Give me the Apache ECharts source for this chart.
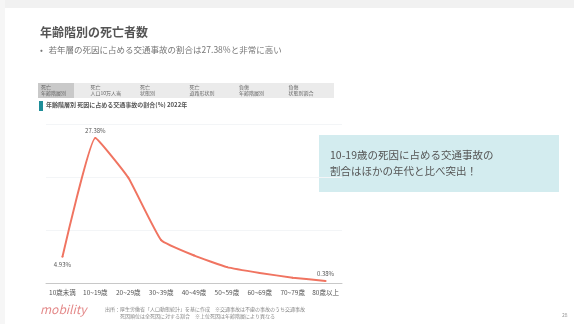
<!DOCTYPE html>
<html>
<head>
<meta charset="utf-8">
<script src="https://cdn.jsdelivr.net/npm/echarts@6/dist/echarts.min.js"></script>
<style>
  html, body { margin: 0; padding: 0; background: #fff; }
  #chart { width: 574px; height: 324px; }
</style>
</head>
<body>
<div id="chart"></div>
<script>
// age groups on the x axis
const ageGroups = ['10歳未満', '10~19歳', '20~29歳', '30~39歳', '40~49歳', '50~59歳', '60~69歳', '70~79歳', '80歳以上'];
// share of traffic accidents among causes of death (%)
const accidentShare = [4.93, 27.38, 19.9, 8.1, 5.2, 3.0, 1.9, 1.0, 0.38];
// which points get a value label
const labelledPoints = [0, 1, 8];

const tabTitles = [['死亡', '年齢階層別'], ['死亡', '人口10万人当'], ['死亡', '状態別'], ['死亡', '道路形状別'], ['負傷', '年齢階層別'], ['負傷', '状態別割合']];

const chart = echarts.init(document.getElementById('chart'));

const font = '"Noto Sans CJK JP", "Noto Sans", sans-serif';

// tab strip above the chart
const tabs = [];
tabTitles.forEach((t, i) => {
  const x = 39 + i * 49.5;
  tabs.push({
    type: 'text', left: x + 2, top: 84,
    style: { text: t[0] + '\n' + t[1], fontSize: 5, lineHeight: 6, fill: '#666', fontFamily: font }
  });
});

chart.setOption({
  animation: false,
  backgroundColor: '#ffffff',
  textStyle: { fontFamily: font },
  grid: { left: 46, right: 232, top: 124, bottom: 41 },
  xAxis: {
    type: 'category',
    data: ageGroups,
    boundaryGap: true,
    axisLine: { lineStyle: { color: '#c8c8c8', width: 1 } },
    axisTick: { show: false },
    axisLabel: { fontSize: 6.5, color: '#555', margin: 6, interval: 0 }
  },
  yAxis: {
    type: 'value',
    min: 0, max: 30,
    axisLine: { show: false },
    axisTick: { show: false },
    axisLabel: { show: false },
    splitLine: { lineStyle: { color: '#f3f5f7', width: 1 } },
    splitNumber: 3
  },
  series: [{
    type: 'line',
    data: accidentShare.map((v, i) => ({
      value: v,
      label: {
        show: labelledPoints.includes(i),
        position: i === 0 ? 'bottom' : 'top',
        distance: i === 0 ? 4 : 3
      }
    })),
    smooth: 0.12,
    symbol: 'circle',
    symbolSize: 2,
    showSymbol: true,
    itemStyle: { color: '#f07461' },
    lineStyle: { color: '#f07461', width: 2 },
    label: {
      fontSize: 6,
      color: '#555',
      formatter: p => p.value.toFixed(2) + '%'
    }
  }],
  graphic: [
    { type: 'rect', left: 0, top: 0, shape: { width: 574, height: 8 }, style: { fill: '#f1f1f1' } },
    { type: 'rect', left: 0, top: 0, shape: { width: 5, height: 324 }, style: { fill: '#f6f6f6' } },
    {
      type: 'text', left: 40, top: 26,
      style: { text: '年齢階別の死亡者数', fontSize: 12, fontWeight: 'bold', fill: '#555', fontFamily: font }
    },
    {
      type: 'text', left: 40, top: 46,
      style: { text: '•   若年層の死因に占める交通事故の割合は27.38%と非常に高い', fontSize: 8.5, fill: '#777', fontFamily: font }
    },
    { type: 'rect', left: 38, top: 83, shape: { width: 296, height: 15 }, style: { fill: '#ebebeb' } },
    { type: 'rect', left: 38, top: 83, shape: { width: 36, height: 15 }, style: { fill: '#c9c9c9' } },
    ...tabs,
    { type: 'rect', left: 39, top: 101, shape: { width: 4, height: 10 }, style: { fill: '#1e8e99' } },
    {
      type: 'text', left: 46, top: 102,
      style: { text: '年齢階層別 死因に占める交通事故の割合(%) 2022年', fontSize: 6, fontWeight: 'bold', fill: '#555', fontFamily: font }
    },
    { type: 'rect', left: 319, top: 135, shape: { width: 240, height: 57 }, style: { fill: '#d3ecef' } },
    {
      type: 'text', left: 330, top: 147,
      style: { text: '10-19歳の死因に占める交通事故の\n割合はほかの年代と比べ突出！', fontSize: 10.5, lineHeight: 16, fill: '#555', fontFamily: font }
    },
    {
      type: 'text', left: 40, top: 303,
      style: { text: 'mobility', fontSize: 12, fill: '#e48a8a', fontFamily: font, fontStyle: 'italic' }
    },
    {
      type: 'text', left: 105, top: 306,
      style: { text: '出所：厚生労働省「人口動態統計」を基に作成　※交通事故は不慮の事故のうち交通事故\n　　　死因順位は全死因に対する割合　※上位死因は年齢階層により異なる', fontSize: 5, lineHeight: 7, fill: '#888', fontFamily: font }
    },
    {
      type: 'text', left: 562, top: 313,
      style: { text: '28', fontSize: 5, fill: '#999', fontFamily: font }
    }
  ]
});
</script>
</body>
</html>
